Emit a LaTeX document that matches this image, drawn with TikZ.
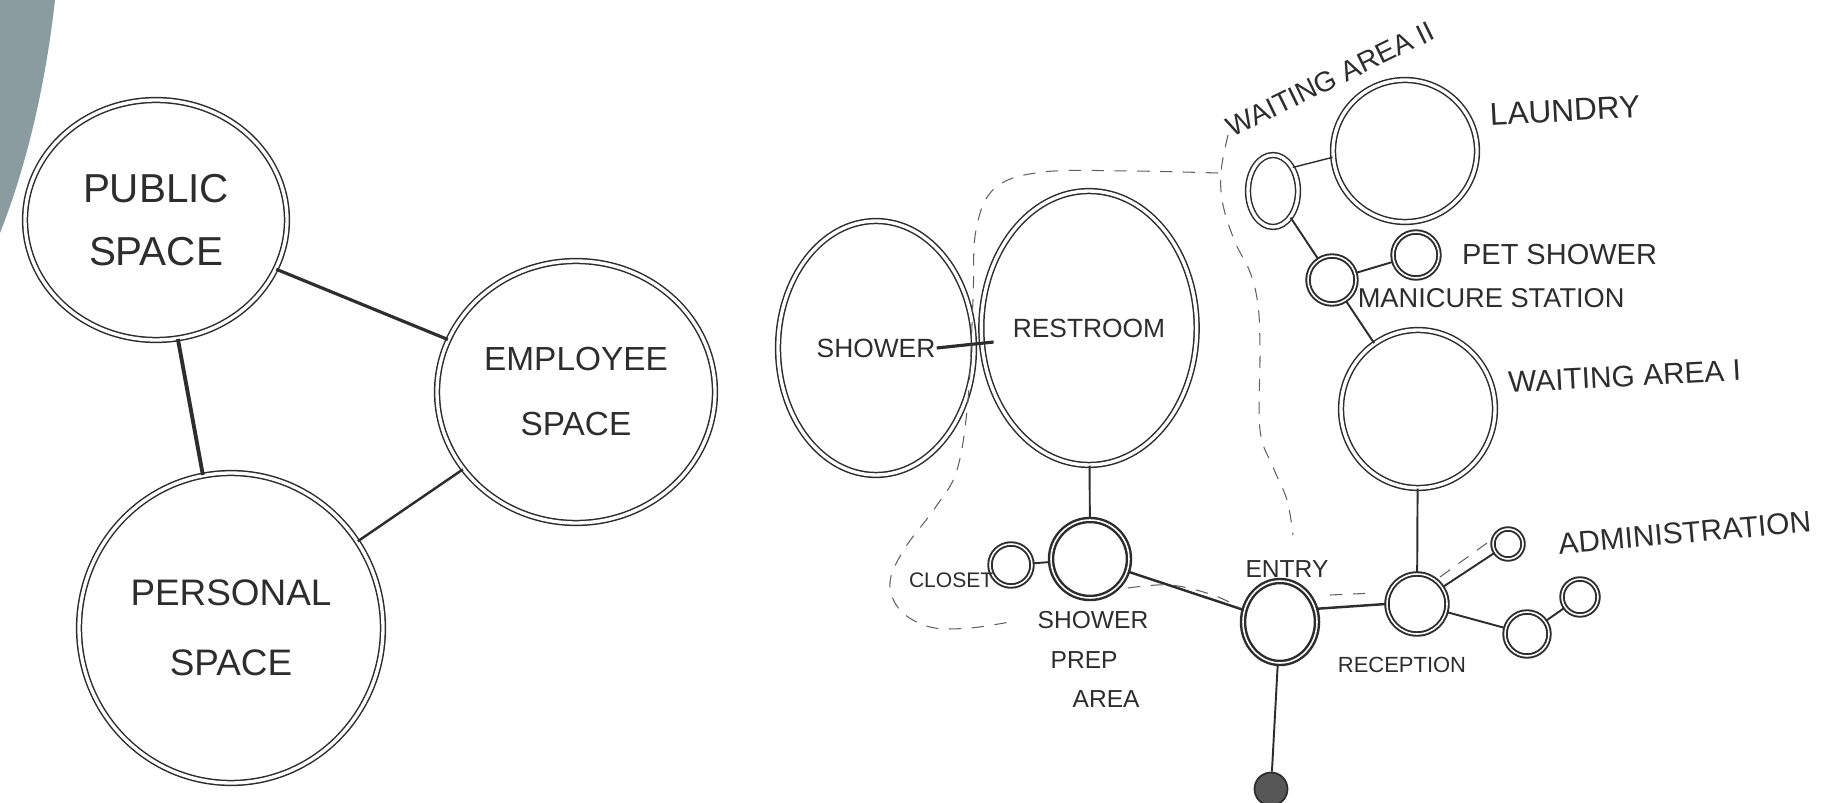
\documentclass[tikz,border=0pt]{standalone}
\usepackage{fontspec}
\setmainfont{Liberation Sans}
\usetikzlibrary{shapes.geometric, positioning, calc}
\definecolor{pencil}{RGB}{45,45,45}
\definecolor{slate}{RGB}{138,156,159}

\begin{document}
\begin{tikzpicture}[x=0.02cm, y=-0.02cm,
    room/.style={ellipse, draw=pencil, line width=0.85pt, double=white, double distance=1.9pt,
        inner sep=0pt, text=pencil, align=center},
    spot/.style={circle, draw=pencil, line width=1.1pt, double=white, double distance=0.9pt, inner sep=0pt},
    lbl/.style={text=pencil, inner sep=1pt},
    link/.style={draw=pencil, line width=1.1pt},
    bound/.style={draw=pencil!75, line width=0.6pt, dash pattern=on 7pt off 6pt}]
    \useasboundingbox (0,0) rectangle (1829,803);
    \fill[slate] (0,0) -- (55,0) .. controls (45,90) and (25,170) .. (0,233) -- cycle;

    \node[room, minimum width=5.24cm, minimum height=4.8cm, font=\fontsize{23}{36}\selectfont] (pub) at (156,220) {PUBLIC\\SPACE};
    \node[room, minimum width=5.56cm, minimum height=5.24cm, font=\fontsize{19}{37}\selectfont] (emp) at (576,392) {EMPLOYEE\\SPACE};
    \node[room, minimum width=6.08cm, minimum height=6.2cm, font=\fontsize{21}{40}\selectfont] (pers) at (231,628) {PERSONAL\\SPACE};
    \draw[link, line width=1.8pt] (pub) -- (emp);
    \draw[link, line width=2.2pt] (pub) -- (pers);
    \draw[link, line width=1.4pt] (emp) -- (pers);

    \node[room, minimum width=3.92cm, minimum height=5.08cm, font=\fontsize{15}{18}\selectfont] (shower) at (876,348) {SHOWER};
    \node[room, minimum width=4.16cm, minimum height=5.48cm, font=\fontsize{15}{18}\selectfont] (restroom) at (1089,328) {RESTROOM};
    \node[room, minimum width=2.88cm, minimum height=2.84cm] (laundry) at (1405,151) {};
    \node[room, minimum width=1.0cm, minimum height=1.44cm] (oval) at (1273,191) {};
    \node[room, minimum width=3.08cm, minimum height=3.16cm] (waiting) at (1418,409) {};
    \node[spot, ellipse, minimum width=1.48cm, minimum height=1.64cm, line width=1.4pt] (entry) at (1280,622) {};
    \node[spot, minimum size=1.56cm, line width=1.4pt] (prep) at (1090,559) {};
    \node[spot, minimum size=0.84cm] (closet) at (1011,565) {};
    \node[spot, minimum size=0.96cm] (manicure) at (1332,280) {};
    \node[spot, minimum size=0.92cm] (pet) at (1416,255) {};
    \node[spot, minimum size=1.2cm] (reception) at (1417,604) {};
    \node[spot, minimum size=0.6cm] (admin) at (1508,544) {};
    \node[spot, minimum size=0.88cm] (adminb) at (1527,634) {};
    \node[spot, minimum size=0.72cm] (adminc) at (1580,597) {};
    \node[circle, draw=pencil, fill=pencil!80, line width=1pt, minimum size=0.66cm] (exitdot) at (1271,789) {};

    \node[lbl, rotate=26, font=\fontsize{16}{18}\selectfont] (oval lbl) at ([xshift=1.14cm, yshift=1.5cm]oval.north) {WAITING AREA II};
    \node[lbl, right=0.4cm of laundry.30, anchor=west, rotate=3, font=\fontsize{18}{20}\selectfont] (laundry lbl) {LAUNDRY};
    \node[lbl, right=0.4cm of pet, font=\fontsize{16.5}{18}\selectfont] (pet lbl) {PET SHOWER};
    \node[lbl, right=0.12cm of manicure.south east, font=\fontsize{15.5}{18}\selectfont] (manicure lbl) {MANICURE STATION};
    \node[lbl, right=0.3cm of waiting.20, anchor=west, rotate=3, font=\fontsize{17}{18}\selectfont] (waiting lbl) {WAITING AREA I};
    \node[lbl, right=0.65cm of admin, anchor=west, rotate=5, font=\fontsize{17}{18}\selectfont] (admin lbl) {ADMINISTRATION};
    \node[lbl, below=0.4cm of reception, xshift=-0.3cm, font=\fontsize{12.5}{14}\selectfont] (reception lbl) {RECEPTION};
    \node[lbl, above=0pt of entry, xshift=0.14cm, font=\fontsize{14}{16}\selectfont] (entry lbl) {ENTRY};
    \node[lbl, left=0pt of closet.south west, font=\fontsize{12}{14}\selectfont] (closet lbl) {CLOSET};
    \node[lbl, below=0.2cm of prep, xshift=0.06cm, align=left, font=\fontsize{14}{22.5}\selectfont] (prep lbl)
        {SHOWER\\\hspace*{0.26cm}PREP\\\hspace*{0.7cm}AREA};

    \draw[link, line width=1.8pt] ([xshift=-0.76cm]shower.east) -- ([xshift=0.26cm, yshift=-0.28cm]restroom.west);
    \foreach \a/\b in {restroom/prep, closet/prep, entry/exitdot, waiting/reception, manicure/waiting,
        oval/manicure, manicure/pet, reception/admin, reception/adminb, adminb/adminc}
        \draw[link] (\a) -- (\b);
    \draw[link, line width=1.4pt] (prep) -- (entry);
    \draw[link, line width=1.4pt] (entry.20) -- (reception.west);
    \draw[link, line width=0.8pt] (oval.50) -- (laundry.185);

    \draw[bound] plot[smooth, tension=0.6] coordinates {(1218,173) (1130,171) (1043,172) (995,188) (976,230)
        (973,300) (968,400) (957,470) (935,508) (905,548) (890,582) (900,610) (930,627) (970,628)
        (1015,621)};
    \draw[bound] plot[smooth, tension=0.6] coordinates {(1128,588) (1170,585) (1213,595) (1240,608)};
    \draw[bound] plot[smooth, tension=0.6] coordinates {(1228,135) (1221,172) (1223,205) (1235,242)
        (1250,272) (1258,305) (1260,350) (1260,430) (1273,467) (1287,500) (1293,535)};
    \draw[bound] (1330,595) -- (1375,593);
    \draw[bound] (1440,577) -- (1487,543);
\end{tikzpicture}
\end{document}
